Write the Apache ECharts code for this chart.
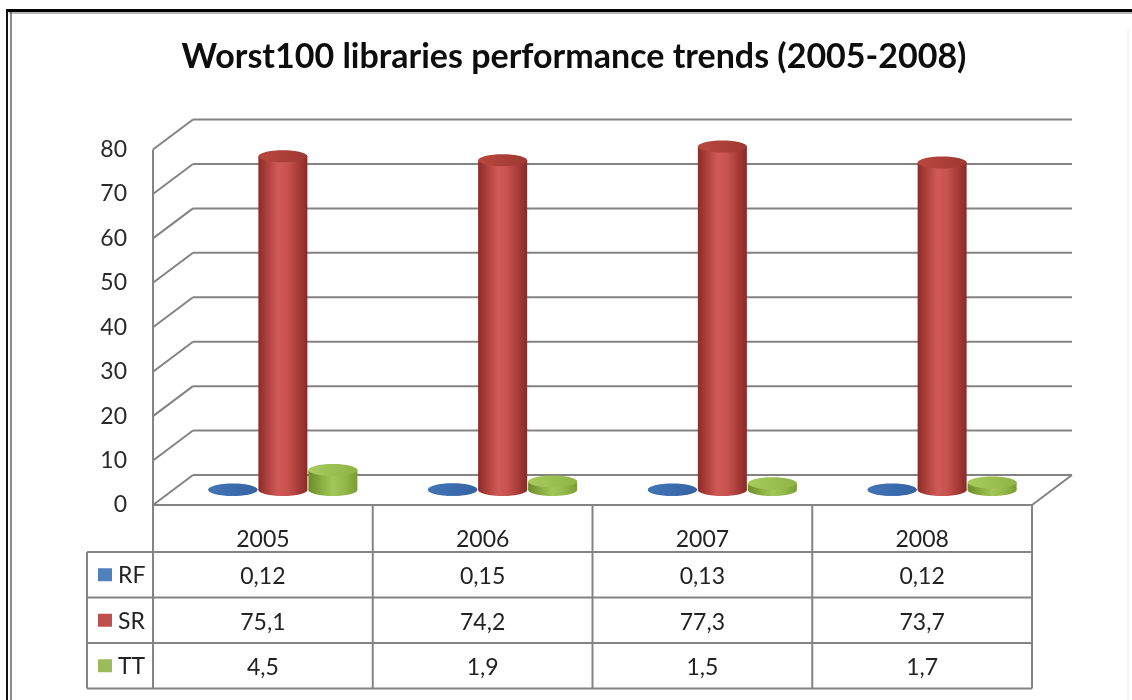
<!DOCTYPE html>
<html>
<head>
<meta charset="utf-8">
<script src="https://cdn.jsdelivr.net/npm/echarts@6/dist/echarts.min.js"></script>
<style>
  html, body { margin: 0; padding: 0; background: #ffffff; }
  #chart { width: 1132px; height: 700px; }
</style>
</head>
<body>
<div id="chart"></div>
<script>
// ---- data ----
const chartTitle = 'Worst100 libraries performance trends (2005-2008)';
const years = ['2005', '2006', '2007', '2008'];
const seriesNames = ['RF', 'SR', 'TT'];
const rfValues = [0.12, 0.15, 0.13, 0.12];
const srValues = [75.1, 74.2, 77.3, 73.7];
const ttValues = [4.5, 1.9, 1.5, 1.7];
const yTicks = [0, 10, 20, 30, 40, 50, 60, 70, 80];

// ---- look ----
const FONT = 'Lato, "Open Sans", sans-serif';
const LINE = '#838383';
const TEXT = '#222222';
const DEPTH_X = 40;    // back wall offset from the front plane
const DEPTH_Y = -30;
const BAR_W = 50;
const CAP_RY = 6;
const keyColors = ['#4F81BD', '#C0504D', '#9BBB59'];
const shades = [
  { body: ['#2a5490', '#3f70b1', '#4a7cbd', '#3b69a8', '#2c5590'], cap: ['#4374b6', '#3564a3'] },
  { body: ['#8c2b28', '#b2423f', '#cf5a57', '#c7524f', '#a93d3a', '#8a2a27'], cap: ['#b8483f', '#a03733'] },
  { body: ['#6c8b2b', '#88ac3e', '#a3c659', '#93b84a', '#7a9c33'], cap: ['#a8cb5e', '#8fb446'] }
];
const valueLists = [rfValues, srValues, ttValues];

function gradient(stops) {
  return new echarts.graphic.LinearGradient(0, 0, 1, 0,
    stops.map((c, i) => ({ offset: i / (stops.length - 1), color: c })));
}
function seg(x1, y1, x2, y2, color, w) {
  return { type: 'line', shape: { x1, y1, x2, y2 },
           style: { stroke: color || LINE, lineWidth: w || 2 } };
}
function fmt(v) { return String(v).replace('.', ','); }

// walls, floor and gridlines of the 3D frame
function renderWalls(params, api) {
  const band = api.size([1, 0])[0];
  const left = api.coord([0, 0])[0] - band / 2;
  const right = api.coord([years.length - 1, 0])[0] + band / 2;
  const yZero = api.coord([0, 0])[1];
  const yTop = api.coord([0, yTicks[yTicks.length - 1]])[1];
  const children = [];
  yTicks.forEach(v => {
    const y = api.coord([0, v])[1];
    children.push(seg(left, y, left + DEPTH_X, y + DEPTH_Y));
    children.push(seg(left + DEPTH_X, y + DEPTH_Y, right + DEPTH_X, y + DEPTH_Y));
  });
  children.push(seg(left, yTop, left, yZero));
  children.push(seg(right, yZero, right + DEPTH_X, yZero + DEPTH_Y));
  return { type: 'group', children };
}

// data table under the plot
function renderTable(params, api) {
  const band = api.size([1, 0])[0];
  const left = api.coord([0, 0])[0] - band / 2;
  const right = api.coord([years.length - 1, 0])[0] + band / 2;
  const top = api.coord([0, 0])[1];
  const headerH = 47, rowH = 45.5;
  const bottom = top + headerH + rowH * seriesNames.length;
  const keyLeft = left - 66;
  const font = '23px ' + FONT;
  const children = [];
  children.push(seg(left, top, right, top));
  for (let r = 0; r <= seriesNames.length; r++) {
    const y = top + headerH + r * rowH;
    children.push(seg(keyLeft, y, right, y));
  }
  children.push(seg(keyLeft, top + headerH, keyLeft, bottom));
  for (let i = 0; i <= years.length; i++) {
    const x = left + band * i;
    children.push(seg(x, top, x, bottom));
  }
  years.forEach((yr, i) => {
    const cx = api.coord([i, 0])[0];
    children.push({ type: 'text', style: { text: yr, x: cx, y: top + 35, align: 'center',
      verticalAlign: 'middle', font, fill: TEXT } });
    valueLists.forEach((vals, s) => {
      children.push({ type: 'text', style: { text: fmt(vals[i]), x: cx,
        y: top + headerH + rowH * s + rowH / 2 + 2, align: 'center',
        verticalAlign: 'middle', font, fill: TEXT } });
    });
  });
  seriesNames.forEach((name, s) => {
    const yc = top + headerH + rowH * s + rowH / 2;
    children.push({ type: 'rect', shape: { x: keyLeft + 11, y: yc - 6.5, width: 14, height: 13 },
      style: { fill: keyColors[s] } });
    children.push({ type: 'text', style: { text: name, x: keyLeft + 31, y: yc + 1, align: 'left',
      verticalAlign: 'middle', font, fill: TEXT } });
  });
  return { type: 'group', children };
}

// one cylinder per data item, placed halfway into the depth
function cylinderRenderer(sIdx) {
  return function (params, api) {
    const cat = api.value(0), val = api.value(1);
    const base = api.coord([cat, 0]);
    const tip = api.coord([cat, val]);
    const cx = base[0] + DEPTH_X / 2 + (sIdx - 1) * BAR_W;
    const yb = base[1] + DEPTH_Y / 2;
    const yt = tip[1] + DEPTH_Y / 2;
    const r = BAR_W / 2 - 0.5;
    const sh = shades[sIdx];
    return {
      type: 'group',
      children: [
        { type: 'ellipse', shape: { cx, cy: yb, rx: r, ry: CAP_RY }, style: { fill: gradient(sh.body) } },
        { type: 'rect', shape: { x: cx - r, y: yt, width: 2 * r, height: Math.max(yb - yt, 0) },
          style: { fill: gradient(sh.body) } },
        { type: 'ellipse', shape: { cx, cy: yt, rx: r, ry: CAP_RY }, style: { fill: gradient(sh.cap) } }
      ]
    };
  };
}

const chart = echarts.init(document.getElementById('chart'), null, { renderer: 'canvas' });

const option = {
  animation: false,
  backgroundColor: '#ffffff',
  grid: { left: 153, right: 100, top: 149.5, bottom: 195, containLabel: false, outerBoundsMode: 'none' },
  xAxis: {
    type: 'category', data: years, boundaryGap: true,
    axisLine: { show: false }, axisTick: { show: false }, axisLabel: { show: false },
    splitLine: { show: false }
  },
  yAxis: {
    type: 'value', min: 0, max: 80, interval: 10,
    axisLine: { show: false }, axisTick: { show: false }, splitLine: { show: false },
    axisLabel: { fontSize: 23, fontFamily: FONT, color: '#2a2a2a', margin: 26 }
  },
  graphic: [
    { type: 'text', x: 574, y: 57, silent: true,
      style: { text: chartTitle, align: 'center', verticalAlign: 'middle',
               font: 'bold 34px ' + FONT, fill: '#0d0d0d' } },
    { type: 'line', shape: { x1: 6, y1: 10.5, x2: 1132, y2: 10.5 }, style: { stroke: '#000', lineWidth: 3 } },
    { type: 'line', shape: { x1: 9, y1: 13, x2: 1132, y2: 13 }, style: { stroke: '#a0a0a0', lineWidth: 1.5 } },
    { type: 'line', shape: { x1: 7, y1: 9, x2: 7, y2: 700 }, style: { stroke: '#111', lineWidth: 2 } },
    { type: 'line', shape: { x1: 11, y1: 12, x2: 11, y2: 700 }, style: { stroke: '#666', lineWidth: 1.5 } },
    { type: 'line', shape: { x1: 1128, y1: 30, x2: 1128, y2: 700 }, style: { stroke: '#e6e6e6', lineWidth: 1 } }
  ],
  series: [
    { type: 'custom', name: 'walls', renderItem: renderWalls, data: [[0, 0]], silent: true, z: 1 },
    { type: 'custom', name: 'table', renderItem: renderTable, data: [[0, 0]], silent: true, z: 1 }
  ].concat(seriesNames.map((name, s) => ({
    type: 'custom', name, renderItem: cylinderRenderer(s),
    data: valueLists[s].map((v, i) => [i, v]), z: 2 + s
  })))
};

chart.setOption(option);
</script>
</body>
</html>
